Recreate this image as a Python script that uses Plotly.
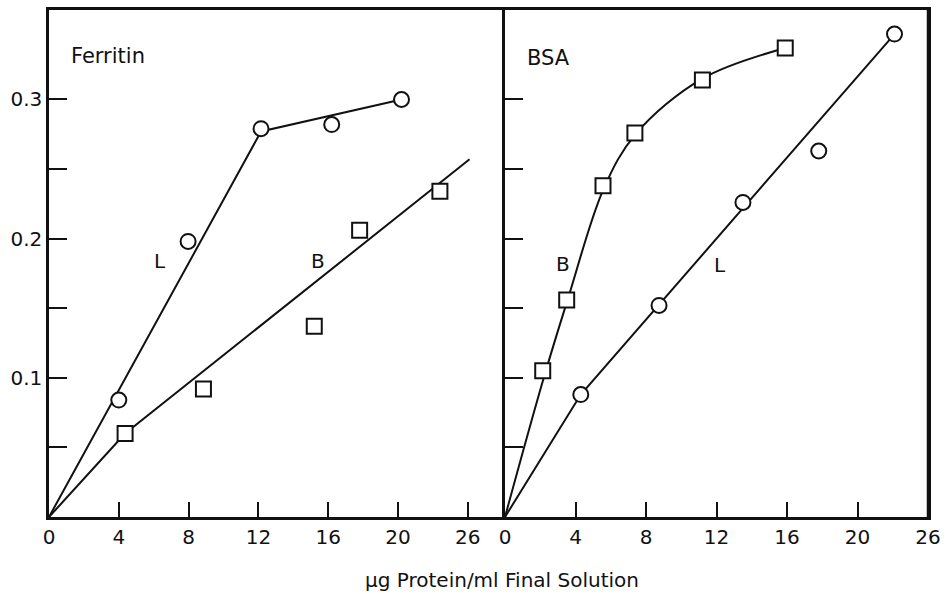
import plotly.graph_objects as go

# ---- Ferritin panel data ----
fer_L_x = [4.0, 7.97, 12.15, 16.2, 20.2]
fer_L_y = [0.084, 0.198, 0.279, 0.282, 0.300]
fer_L_fit_x = [0, 12.15, 20.2]
fer_L_fit_y = [0, 0.277, 0.300]

fer_B_x = [4.36, 8.85, 15.2, 17.8, 22.4]
fer_B_y = [0.060, 0.092, 0.137, 0.206, 0.234]
fer_B_fit_x = [0, 4.36, 24.1]
fer_B_fit_y = [0, 0.060, 0.257]

# ---- BSA panel data ----
bsa_B_x = [2.14, 3.5, 5.56, 7.37, 11.2, 15.9]
bsa_B_y = [0.105, 0.156, 0.238, 0.276, 0.314, 0.337]
bsa_B_fit_x = [0, 2.2, 3.6, 5.6, 7.4, 11.2, 15.9]
bsa_B_fit_y = [0, 0.100, 0.158, 0.236, 0.275, 0.315, 0.337]

bsa_L_x = [4.3, 8.74, 13.5, 17.8, 22.1]
bsa_L_y = [0.088, 0.152, 0.226, 0.263, 0.347]
bsa_L_fit_x = [0, 4.3, 22.1]
bsa_L_fit_y = [0, 0.088, 0.347]

x_tickvals = [0, 4, 8, 12, 16, 20, 24]
x_ticktext = ["0", "4", "8", "12", "16", "20", "26"]
y_tickvals = [0.05, 0.1, 0.15, 0.2, 0.25, 0.3]
y_ticktext = ["", "0.1", "", "0.2", "", "0.3"]

FONT = "DejaVu Sans"
BLACK = "#111111"

fig = go.Figure()

def line(x, y, xa, ya, shape="linear"):
    fig.add_trace(go.Scatter(x=x, y=y, mode="lines", xaxis=xa, yaxis=ya,
                             line=dict(color=BLACK, width=2, shape=shape),
                             showlegend=False, hoverinfo="skip"))

def pts(x, y, xa, ya, symbol):
    fig.add_trace(go.Scatter(x=x, y=y, mode="markers", xaxis=xa, yaxis=ya,
                             marker=dict(symbol=symbol, size=15, color="white",
                                         line=dict(color=BLACK, width=2)),
                             showlegend=False))

line(fer_L_fit_x, fer_L_fit_y, "x", "y")
line(fer_B_fit_x, fer_B_fit_y, "x", "y")
pts(fer_L_x, fer_L_y, "x", "y", "circle")
pts(fer_B_x, fer_B_y, "x", "y", "square")

line(bsa_B_fit_x, bsa_B_fit_y, "x2", "y2", shape="spline")
line(bsa_L_fit_x, bsa_L_fit_y, "x2", "y2")
pts(bsa_B_x, bsa_B_y, "x2", "y2", "square")
pts(bsa_L_x, bsa_L_y, "x2", "y2", "circle")

left_w = (505 - 49) / 879.0

axis_common = dict(showgrid=False, zeroline=False, showline=True, linecolor=BLACK,
                   linewidth=2.5, ticks="inside", tickcolor=BLACK,
                   tickfont=dict(family=FONT, size=20, color=BLACK))

fig.update_layout(
    width=948, height=594,
    margin=dict(l=49, r=20, t=7, b=77),
    paper_bgcolor="white", plot_bgcolor="white",
    xaxis=dict(domain=[0, left_w], range=[0, 26.13], tickvals=x_tickvals,
               ticktext=x_ticktext, ticklen=15, tickwidth=2, mirror=True,
               anchor="y", **axis_common),
    yaxis=dict(range=[0, 0.3643], tickvals=y_tickvals, ticktext=y_ticktext,
               ticklen=18, tickwidth=2, anchor="x", **axis_common),
    xaxis2=dict(domain=[left_w, 1], range=[0, 24], tickvals=x_tickvals,
                ticktext=x_ticktext, ticklen=15, tickwidth=2, mirror=True,
                anchor="y2", **axis_common),
    yaxis2=dict(range=[0, 0.3643], tickvals=y_tickvals, showticklabels=False,
                ticklen=18, tickwidth=2, anchor="x2", mirror=True,
                **axis_common),
)

# right border of the BSA panel
fig.add_shape(type="line", xref="paper", yref="paper",
              x0=1, x1=1, y0=0, y1=1, line=dict(color=BLACK, width=2.5))

def label(text, x, y, xref, yref, xanchor="center", size=20):
    fig.add_annotation(text=text, x=x, y=y, xref=xref, yref=yref,
                       showarrow=False, xanchor=xanchor, yanchor="middle",
                       font=dict(family=FONT, size=size, color=BLACK))

label("Ferritin", 1.15, 0.331, "x", "y", xanchor="left", size=21)
label("L", 6.36, 0.184, "x", "y")
label("B", 15.4, 0.184, "x", "y")
label("BSA", 1.13, 0.330, "x2", "y2", xanchor="left", size=21)
label("B", 3.3, 0.182, "x2", "y2")
label("L", 12.2, 0.181, "x2", "y2")
label("μg Protein/ml Final Solution", 0.515, -0.1235, "paper", "paper", size=20)

fig.write_html("out.html")
